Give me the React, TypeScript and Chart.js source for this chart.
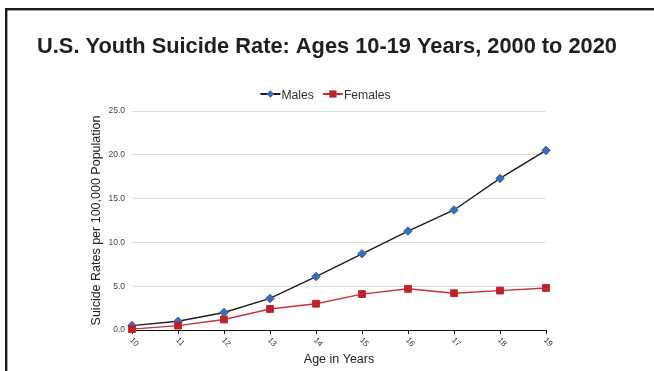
import React, { useEffect, useRef } from "react";
import { Chart, registerables } from "chart.js";

Chart.register(...registerables);

// Suicide rates per 100,000 population by single year of age
const ages = ["10", "11", "12", "13", "14", "15", "16", "17", "18", "19"];
const males = [0.5, 1.0, 2.0, 3.6, 6.1, 8.7, 11.3, 13.7, 17.3, 20.5];
const females = [0.1, 0.5, 1.2, 2.4, 3.0, 4.1, 4.7, 4.2, 4.5, 4.8];

const yMin = 0;
const yMax = 25;
const yStep = 5;

const titleText = "U.S. Youth Suicide Rate: Ages 10-19 Years, 2000 to 2020";
const yTitle = "Suicide Rates per 100,000 Population";
const xTitle = "Age in Years";
const seriesNames = ["Males", "Females"];

const FONT = "'Liberation Sans', Arial, Helvetica, sans-serif";
const W = 654;
const H = 371;

const maleMarker = "#3B6CB7";
const maleLine = "#1c1c1c";
const femaleMarker = "#C0212B";
const femaleLine = "#C8303A";

const decorations = {
  id: "decorations",
  beforeDraw(chart: any) {
    const ctx = chart.ctx as CanvasRenderingContext2D;
    ctx.save();
    ctx.fillStyle = "#ffffff";
    ctx.fillRect(0, 0, chart.width, chart.height);
    // frame edges (top and left)
    ctx.fillStyle = "#1a1a1a";
    ctx.fillRect(5, 8, chart.width - 5, 2.4);
    ctx.fillRect(5, 8, 2.4, chart.height - 8);
    ctx.restore();
  },
  afterDraw(chart: any) {
    const ctx = chart.ctx as CanvasRenderingContext2D;
    const cx = chart.width / 2;

    // heading
    ctx.save();
    ctx.font = `bold 21.8px ${FONT}`;
    ctx.fillStyle = "#1f1f1f";
    ctx.textAlign = "center";
    ctx.textBaseline = "alphabetic";
    ctx.fillText(titleText, cx, 52.5);
    ctx.restore();

    // legend: line + marker + label
    ctx.save();
    ctx.font = `12.2px ${FONT}`;
    ctx.textBaseline = "alphabetic";
    ctx.textAlign = "left";
    const lineLen = 20;
    const gap = 10;
    const widths = seriesNames.map((s) => ctx.measureText(s).width);
    const total = lineLen * 2 + widths[0] + widths[1] + gap;
    let x = cx - total / 2 - 2;
    const ly = 94;
    const styles = [
      { line: maleLine, fill: maleMarker, shape: "diamond" },
      { line: femaleLine, fill: femaleMarker, shape: "square" },
    ];
    seriesNames.forEach((name, i) => {
      const st = styles[i];
      ctx.strokeStyle = st.line;
      ctx.lineWidth = 2;
      ctx.beginPath();
      ctx.moveTo(x, ly);
      ctx.lineTo(x + lineLen, ly);
      ctx.stroke();
      const mx = x + lineLen / 2;
      ctx.fillStyle = st.fill;
      ctx.beginPath();
      if (st.shape === "diamond") {
        const r = 3.8;
        ctx.moveTo(mx, ly - r);
        ctx.lineTo(mx + r, ly);
        ctx.lineTo(mx, ly + r);
        ctx.lineTo(mx - r, ly);
        ctx.closePath();
      } else {
        ctx.rect(mx - 3.6, ly - 3.6, 7.2, 7.2);
      }
      ctx.fill();
      ctx.fillStyle = "#333333";
      ctx.fillText(name, x + lineLen + 1, ly + 4.5);
      x += lineLen + widths[i] + gap;
    });
    ctx.restore();

    // slanted category labels under the x axis
    const xs = chart.scales.x;
    ctx.save();
    ctx.font = `8px ${FONT}`;
    ctx.fillStyle = "#333333";
    ctx.textAlign = "left";
    ctx.textBaseline = "middle";
    xs.ticks.forEach((t: any, i: number) => {
      const px = xs.getPixelForTick(i);
      ctx.save();
      ctx.translate(px - 1, xs.top + 9);
      ctx.rotate(Math.PI / 4);
      ctx.fillText(String(xs.getLabelForValue(t.value)), 0, 0);
      ctx.restore();
    });
    ctx.restore();
  },
};

export default function App() {
  const canvasRef = useRef<HTMLCanvasElement | null>(null);

  useEffect(() => {
    if (!canvasRef.current) return;
    const chart = new Chart(canvasRef.current, {
      type: "line",
      data: {
        labels: ages,
        datasets: [
          {
            label: seriesNames[0],
            data: males,
            borderColor: maleLine,
            borderWidth: 1.4,
            backgroundColor: maleMarker,
            pointStyle: "rectRot",
            pointRadius: 4.3,
            pointBackgroundColor: maleMarker,
            pointBorderColor: maleMarker,
            pointBorderWidth: 1,
            tension: 0,
            clip: false as any,
            order: 1,
          },
          {
            label: seriesNames[1],
            data: females,
            borderColor: femaleLine,
            borderWidth: 1.4,
            backgroundColor: femaleMarker,
            pointStyle: "rect",
            pointRadius: 4.8,
            pointBackgroundColor: femaleMarker,
            pointBorderColor: femaleMarker,
            pointBorderWidth: 1,
            tension: 0,
            clip: false as any,
            order: 0,
          },
        ],
      },
      options: {
        responsive: false,
        animation: false,
        devicePixelRatio: 1,
        layout: { padding: { left: 85, right: 108, top: 111, bottom: 0 } },
        plugins: {
          legend: { display: false },
          title: { display: false },
          tooltip: { enabled: false },
        },
        scales: {
          x: {
            type: "category",
            offset: false,
            grid: {
              display: true,
              drawOnChartArea: false,
              drawTicks: true,
              tickLength: 4,
              color: "#111111",
              lineWidth: 1,
            },
            border: { display: true, color: "#111111", width: 1 },
            ticks: { display: false },
            title: {
              display: true,
              text: xTitle,
              color: "#222222",
              font: { family: FONT, size: 12.5 },
              padding: { top: 0, bottom: 3.5 },
            },
            afterFit(scale: any) {
              scale.height = 41;
            },
          },
          y: {
            min: yMin,
            max: yMax,
            grid: { color: "#dcdcdc", lineWidth: 1, drawTicks: false },
            border: { display: false },
            ticks: {
              stepSize: yStep,
              padding: 7,
              color: "#444444",
              font: { family: FONT, size: 8.5 },
              callback: (v: any) => Number(v).toFixed(1),
            },
            title: {
              display: true,
              text: yTitle,
              color: "#222222",
              font: { family: FONT, size: 12.5 },
              padding: { top: 4.5, bottom: 0 },
            },
            afterFit(scale: any) {
              scale.width = 47;
            },
          },
        },
      },
      plugins: [decorations],
    });
    return () => chart.destroy();
  }, []);

  return (
    <div
      style={{
        position: "fixed",
        left: 0,
        top: 0,
        width: W,
        height: H,
        overflow: "hidden",
        background: "#ffffff",
      }}
    >
      <canvas ref={canvasRef} width={W} height={H} style={{ display: "block", width: W, height: H }} />
    </div>
  );
}
